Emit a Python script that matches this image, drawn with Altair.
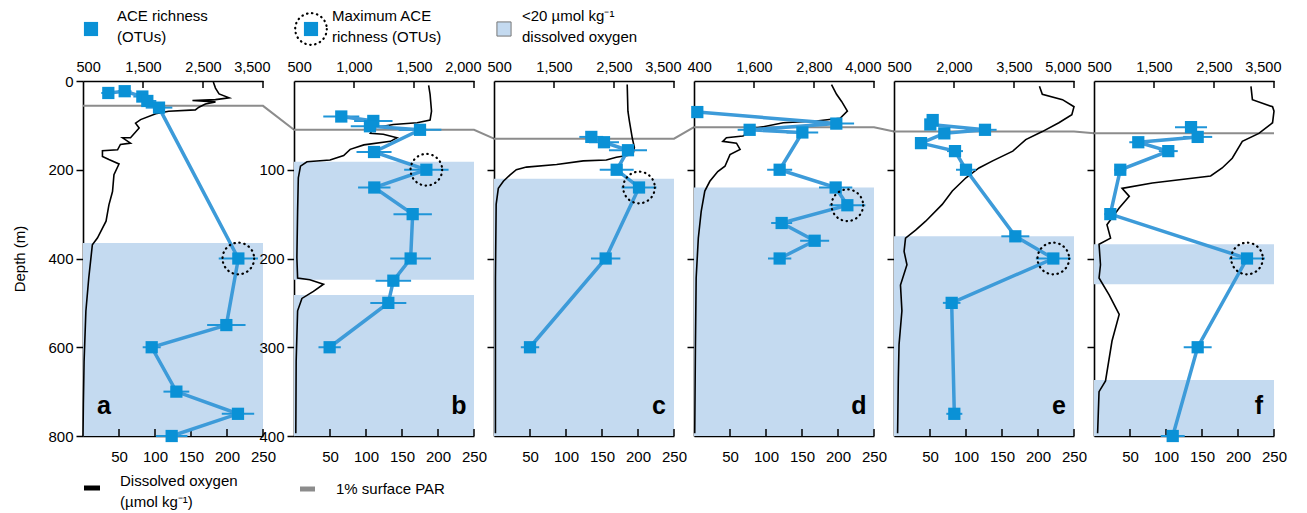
import altair as alt
import pandas as pd

FONT = "Liberation Sans"
PW, PH = 180, 355          # plot area of each panel
GAP = 20                   # space between panels
EXTRA_A = 11               # extra room right of panel a (for panel b's depth labels)
O2_MAX = 250

SQ_COL = "#0a91d6"
LINE_COL = "#3d9bd9"
SHADE_COL = "#c4daf0"
PAR_COL = "#8c8c8c"

# ---------------- data ----------------
letters = ["a", "b", "c", "d", "e", "f"]
depth_max = [800, 400, 400, 400, 400, 400]
ace_ticks = [
    [500, 1500, 2500, 3500],
    [500, 1000, 1500, 2000],
    [500, 1500, 2500, 3500],
    [400, 1600, 2800, 4000],
    [500, 2000, 3500, 5000],
    [500, 1500, 2500, 3500],
]
o2_ticks = [50, 100, 150, 200, 250]

# 1% surface PAR depth (m)
par_depth = [56, 55, 65, 52, 57, 59]

# <20 umol/kg oxygen intervals (m)
shade_top = [[365], [91, 241], [110], [120], [175], [184, 337]]
shade_bot = [[800], [224, 400], [400], [400], [400], [229, 400]]

# ACE richness (OTUs)
ace_depth = [
    [27, 23, 35, 45, 60, 400, 550, 600, 700, 750, 800],
    [40, 45, 51, 55, 80, 100, 120, 150, 200, 225, 250, 300],
    [63, 69, 78, 100, 120, 200, 300],
    [35, 48, 55, 58, 100, 120, 140, 160, 180, 200],
    [44, 49, 55, 59, 70, 79, 100, 175, 200, 250, 375],
    [52, 63, 69, 79, 100, 150, 200, 300, 400],
]
ace_value = [
    [922, 1195, 1489, 1572, 1767, 3089, 2889, 1645, 2056, 3083, 1978],
    [894, 1161, 1133, 1550, 1167, 1603, 1169, 1489, 1472, 1328, 1286, 797],
    [2122, 2333, 2733, 2545, 2917, 2361, 1100],
    [466, 3246, 1513, 2567, 2113, 3233, 3467, 2153, 2813, 2113],
    [1467, 1408, 2775, 1758, 1175, 2025, 2300, 3533, 4483, 1942, 2008],
    [2117, 2228, 1238, 1738, 938, 772, 3050, 2228, 1812],
]
ace_err = [
    [117, 113, 150, 150, 222, 327, 320, 150, 215, 270, 263],
    [150, 160, 160, 178, 146, 185, 135, 160, 170, 148, 150, 93],
    [200, 250, 317, 283, 292, 245, 153],
    [100, 356, 240, 317, 250, 333, 360, 210, 290, 233],
    [120, 110, 290, 120, 110, 200, 250, 350, 437, 220, 200],
    [267, 242, 150, 158, 100, 100, 300, 233, 200],
]

# Dissolved oxygen profiles (umol/kg)
o2_depth = [
    [2, 16, 29, 38, 42, 44, 47, 52, 59, 65, 68, 74, 87, 95, 106, 128, 128, 140, 143,
     155, 157, 170, 177, 187, 211, 249, 279, 316, 354, 369, 444, 519, 632, 729, 800],
    [5, 15, 34, 44, 47, 49, 53, 59, 60, 64, 68, 72, 77, 84, 89, 91, 96, 109, 147,
     199, 222, 224, 229, 237, 245, 259, 316, 397],
    [4, 34, 45, 64, 75, 83, 86, 89, 90, 94, 97, 100, 106, 113, 121, 139, 222, 397],
    [4, 15, 23, 34, 42, 45, 47, 53, 62, 64, 68, 70, 77, 83, 96, 102, 113, 124, 147,
     177, 222, 297, 397],
    [6, 15, 21, 29, 38, 47, 57, 66, 79, 90, 98, 109, 124, 139, 158, 168, 177, 192,
     207, 230, 259, 297, 335, 397],
    [6, 21, 29, 34, 47, 59, 68, 87, 98, 107, 115, 121, 130, 143, 162, 177, 184, 207,
     222, 241, 263, 293, 338, 350, 397],
]
o2_value = [
    [181, 184, 189, 203, 184, 152, 184, 170, 161, 156, 119, 101, 80, 73, 78, 66, 55, 66, 52,
     48, 27, 27, 36, 50, 43, 41, 36, 32, 20, 13, 8, 4, 1.5, 0.5, 0],
    [187, 189, 191, 189, 171, 138, 110, 106, 124, 143, 134, 97, 78, 69, 50, 18, 9, 6, 5,
     4, 5, 22, 41, 27, 11, 5, 3, 2.5],
    [185, 186, 188, 192, 195, 193, 170, 156, 124, 87, 45, 31, 22, 13, 6, 3, 2, 2],
    [191, 198, 205, 213, 203, 170, 124, 87, 68, 45, 40, 59, 64, 50, 43, 33, 22, 15, 10,
     6, 3, 2, 1],
    [202, 206, 234, 250, 247, 229, 206, 183, 165, 137, 118, 100, 81, 67, 44, 30, 16, 14,
     18, 9, 11, 7, 6, 5],
    [218, 220, 248, 250, 248, 229, 206, 192, 178, 162, 81, 39, 49, 35, 18, 23, 7, 9,
     7, 21, 35, 25, 16, 7, 5],
]

one_row = pd.DataFrame({"z": [0]})


def txt(x, y, text, **kw):
    return alt.Chart(one_row).mark_text(font=FONT, fontSize=15, align="left",
                                        baseline="middle", lineHeight=21,
                                        color="black", **kw).encode(
        x=alt.value(x), y=alt.value(y), text=alt.value(text))


def legend_layers():
    L = []
    # top legend
    L.append(alt.Chart(one_row).mark_square(size=200, color=SQ_COL, opacity=1).encode(
        x=alt.value(8), y=alt.value(-52)))
    L.append(txt(34, -65, ["ACE richness", "(OTUs)"]))
    L.append(alt.Chart(one_row).mark_square(size=200, color=SQ_COL, opacity=1).encode(
        x=alt.value(228), y=alt.value(-52)))
    L.append(alt.Chart(one_row).mark_point(shape="circle", size=1000, filled=False,
                                           stroke="black", strokeWidth=2.2,
                                           strokeDash=[0.5, 4.5], strokeCap="round",
                                           opacity=1).encode(
        x=alt.value(228), y=alt.value(-52)))
    L.append(txt(249, -65, ["Maximum ACE", "richness (OTUs)"]))
    L.append(alt.Chart(one_row).mark_square(size=200, color=SHADE_COL, stroke="#777777",
                                            strokeWidth=1, opacity=1).encode(
        x=alt.value(421), y=alt.value(-52)))
    L.append(txt(439, -65, ["<20 \u00b5mol kg\u207b\u00b9", "dissolved oxygen"]))
    # bottom legend
    L.append(alt.Chart(one_row).mark_rule(color="black", strokeWidth=5).encode(
        x=alt.value(1), x2=alt.value(17), y=alt.value(407)))
    L.append(txt(37, 400, ["Dissolved oxygen", "(\u00b5mol kg\u207b\u00b9)"]))
    L.append(alt.Chart(one_row).mark_rule(color=PAR_COL, strokeWidth=5).encode(
        x=alt.value(217), x2=alt.value(232), y=alt.value(408)))
    L.append(txt(253, 408, "1% surface PAR"))
    return L


def make_panel(i):
    dmax = depth_max[i]
    width = PW + (EXTRA_A if i == 0 else 0)
    ys = alt.Scale(domain=[0, dmax], reverse=True, nice=False, zero=False)
    xo = alt.Scale(domain=[0, O2_MAX], range=[0, PW], nice=False, zero=False)
    t = ace_ticks[i]
    xa = alt.Scale(domain=[t[0], t[-1]], range=[0, PW], nice=False, zero=False)

    if i == 0:
        yaxis = alt.Axis(values=[0, 200, 400, 600, 800], title="Depth (m)", format="d")
    elif i == 1:
        yaxis = alt.Axis(values=[100, 200, 300, 400], title=None, format="d")
    else:
        yaxis = alt.Axis(values=[100, 200, 300], title=None, labels=False)
    xo_axis = alt.Axis(orient="bottom", values=o2_ticks, title=None, format="d")
    xa_axis = alt.Axis(orient="top", values=t, title=None, format=",d")

    # ---- oxygen-scale layers ----
    shade_df = pd.DataFrame({"top": shade_top[i], "bot": shade_bot[i],
                             "lo": 0, "hi": O2_MAX})
    shade = alt.Chart(shade_df).mark_rect(color=SHADE_COL, opacity=1).encode(
        x=alt.X("lo:Q", scale=xo, axis=xo_axis), x2="hi:Q",
        y=alt.Y("top:Q", scale=ys, axis=yaxis), y2="bot:Q")

    # PAR line with connector to next panel
    px = [0, O2_MAX]
    py = [par_depth[i], par_depth[i]]
    if i < len(letters) - 1:
        gap_px = (width - PW) + GAP
        px.append(O2_MAX + gap_px / PW * O2_MAX)
        py.append(par_depth[i + 1] * dmax / depth_max[i + 1])
    par_df = pd.DataFrame({"x": px, "y": py, "k": range(len(px))})
    par = alt.Chart(par_df).mark_line(color=PAR_COL, strokeWidth=2).encode(
        x=alt.X("x:Q", scale=xo, axis=xo_axis),
        y=alt.Y("y:Q", scale=ys, axis=yaxis), order="k:Q")

    o2_df = pd.DataFrame({"o2": o2_value[i], "depth": o2_depth[i],
                          "k": range(len(o2_depth[i]))})
    o2 = alt.Chart(o2_df).mark_line(color="black", strokeWidth=1.6).encode(
        x=alt.X("o2:Q", scale=xo, axis=xo_axis),
        y=alt.Y("depth:Q", scale=ys, axis=yaxis), order="k:Q")

    bt_df = pd.DataFrame({"v": o2_ticks})
    bticks = alt.Chart(bt_df).mark_rule(color="black", strokeWidth=1.5).encode(
        x=alt.X("v:Q", scale=xo, axis=xo_axis),
        y=alt.value(PH), y2=alt.value(PH - 7))

    lx = 21 if i == 0 else 165
    letter = alt.Chart(one_row).mark_text(font=FONT, fontSize=25, fontWeight="bold",
                                          color="black", align="center",
                                          baseline="middle").encode(
        x=alt.value(lx), y=alt.value(325), text=alt.value(letters[i]))

    oxy_layers = [shade, par, o2, bticks, letter]
    if i == 0:
        oxy_layers += legend_layers()

    # ---- ACE-scale layers ----
    ace_df = pd.DataFrame({"ace": ace_value[i], "depth": ace_depth[i],
                           "err": ace_err[i], "k": range(len(ace_value[i]))})
    ace_df["lo"] = ace_df["ace"] - ace_df["err"]
    ace_df["hi"] = ace_df["ace"] + ace_df["err"]
    base = alt.Chart(ace_df)
    err = base.mark_rule(color="#1f95d8", strokeWidth=2).encode(
        x=alt.X("lo:Q", scale=xa, axis=xa_axis), x2="hi:Q",
        y=alt.Y("depth:Q", scale=ys, axis=yaxis))
    aline = base.mark_line(color=LINE_COL, strokeWidth=3.5).encode(
        x=alt.X("ace:Q", scale=xa, axis=xa_axis),
        y=alt.Y("depth:Q", scale=ys, axis=yaxis), order="k:Q")
    sq = base.mark_square(size=150, color=SQ_COL, opacity=1).encode(
        x=alt.X("ace:Q", scale=xa, axis=xa_axis),
        y=alt.Y("depth:Q", scale=ys, axis=yaxis))
    mx = ace_df.loc[[ace_df["ace"].idxmax()]]
    circ = alt.Chart(mx).mark_point(shape="circle", size=1000, filled=False,
                                    stroke="black", strokeWidth=2.2,
                                    strokeDash=[0.5, 4.5], strokeCap="round",
                                    opacity=1).encode(
        x=alt.X("ace:Q", scale=xa, axis=xa_axis),
        y=alt.Y("depth:Q", scale=ys, axis=yaxis))
    tt_df = pd.DataFrame({"v": t[1:]})
    tticks = alt.Chart(tt_df).mark_rule(color="black", strokeWidth=1.5).encode(
        x=alt.X("v:Q", scale=xa, axis=xa_axis),
        y=alt.value(0), y2=alt.value(7))

    ace_layers = [err, aline, sq, circ, tticks]

    return alt.layer(alt.layer(*oxy_layers), alt.layer(*ace_layers)).resolve_scale(
        x="independent").properties(width=width, height=PH)


panels = [make_panel(i) for i in range(len(letters))]

chart = alt.hconcat(*panels, spacing=GAP, bounds="flush").resolve_scale(
    x="independent", y="independent"
).properties(
    padding={"left": 12, "top": 8, "right": 5, "bottom": 0}
).configure_view(stroke=None).configure_axis(
    grid=False, domainColor="black", domainWidth=1.6,
    labelFont=FONT, labelFontSize=15, labelColor="black",
    titleFont=FONT, titleFontSize=15, titleFontWeight="normal", titleColor="black",
    tickColor="black", tickWidth=1.5,
).configure_axisX(
    ticks=False, tickSize=0
).configure_axisTop(
    labelPadding=7, labelFlush=True, labelFlushOffset=7, labelFontSize=14.5
).configure_axisBottom(
    labelPadding=13, labelFlush=False
).configure_axisY(
    tickSize=7, labelPadding=3, titlePadding=20
)

chart.save("out.html", embed_options={"renderer": "svg", "actions": False})
